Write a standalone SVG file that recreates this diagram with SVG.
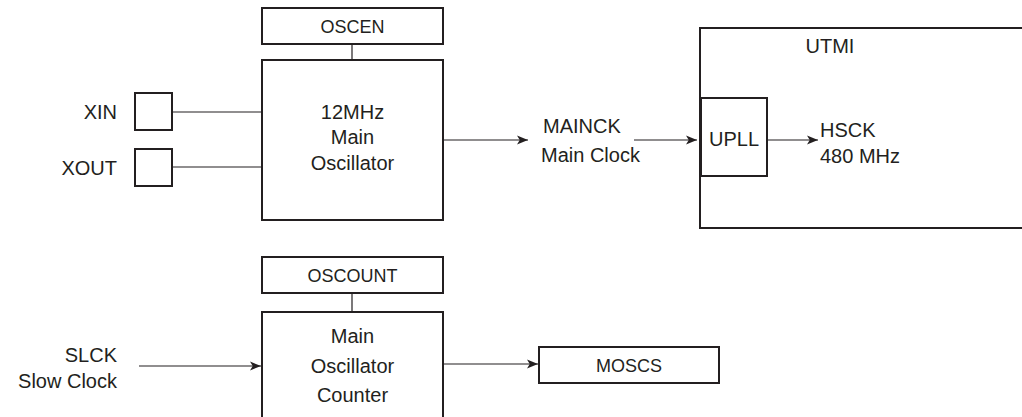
<svg xmlns="http://www.w3.org/2000/svg" width="1022" height="417" viewBox="0 0 1022 417">
<defs>
<style>
.box{fill:#fff;stroke:#231f20;stroke-width:2}
.ln{fill:none;stroke:#231f20;stroke-width:1.2}
.t{font-family:"Liberation Sans",Arial,sans-serif;font-size:20px;fill:#231f20}
.s{font-family:"Liberation Sans",Arial,sans-serif;font-size:18px;fill:#231f20}
.c{text-anchor:middle}
.e{text-anchor:end}
</style>
<marker id="ah" viewBox="0 0 10 10" refX="10" refY="5" markerWidth="11" markerHeight="11" markerUnits="userSpaceOnUse" orient="auto">
<path d="M0,1 L10,5 L0,9 L2.5,5 Z" fill="#231f20"/>
</marker>
</defs>
<rect width="1022" height="417" fill="#fff"/>
<g id="oscen">
<rect class="box" x="262" y="8" width="181" height="36"/>
<text class="s c" x="352.5" y="33">OSCEN</text>
</g>
<g id="main-osc">
<rect class="box" x="262" y="60" width="181" height="160"/>
<text class="t c" x="352.5" y="119">12MHz</text>
<text class="t c" x="352.5" y="144">Main</text>
<text class="t c" x="352.5" y="170">Oscillator</text>
</g>
<g id="xin">
<rect class="box" x="135" y="93" width="37" height="37"/>
<text class="t e" x="117" y="119">XIN</text>
</g>
<g id="xout">
<rect class="box" x="135" y="149" width="37" height="37"/>
<text class="t e" x="117" y="175">XOUT</text>
</g>
<g id="mainck">
<text class="t" x="543" y="133">MAINCK</text>
<text class="t" x="541" y="162">Main Clock</text>
</g>
<g id="utmi">
<rect class="box" x="700" y="28" width="340" height="200"/>
<text class="t c" x="830" y="53">UTMI</text>
</g>
<g id="upll">
<rect class="box" x="701" y="98" width="66" height="78"/>
<text class="t c" x="734" y="146">UPLL</text>
</g>
<g id="hsck">
<text class="t" x="820" y="137">HSCK</text>
<text class="t" x="820" y="163">480 MHz</text>
</g>
<g id="oscount">
<rect class="box" x="262" y="257" width="181" height="36"/>
<text class="s c" x="352.5" y="282">OSCOUNT</text>
</g>
<g id="counter">
<rect class="box" x="262" y="312" width="181" height="120"/>
<text class="t c" x="352.5" y="343">Main</text>
<text class="t c" x="352.5" y="373">Oscillator</text>
<text class="t c" x="352.5" y="402">Counter</text>
</g>
<g id="slck">
<text class="t e" x="117" y="362">SLCK</text>
<text class="t e" x="117" y="388">Slow Clock</text>
</g>
<g id="moscs">
<rect class="box" x="539" y="347" width="180" height="36"/>
<text class="s c" x="629" y="372">MOSCS</text>
</g>
<g id="connectors">
<line class="ln" x1="352" y1="44" x2="352" y2="60"/>
<line class="ln" x1="172" y1="112" x2="262" y2="112"/>
<line class="ln" x1="172" y1="167" x2="262" y2="167"/>
<line class="ln" x1="443" y1="140" x2="528" y2="140" marker-end="url(#ah)"/>
<line class="ln" x1="634" y1="140" x2="697" y2="140" marker-end="url(#ah)"/>
<line class="ln" x1="768" y1="140" x2="818" y2="140" marker-end="url(#ah)"/>
<line class="ln" x1="352" y1="293" x2="352" y2="312"/>
<line class="ln" x1="139" y1="366" x2="261" y2="366" marker-end="url(#ah)"/>
<line class="ln" x1="443" y1="364" x2="538" y2="364" marker-end="url(#ah)"/>
</g>
</svg>
